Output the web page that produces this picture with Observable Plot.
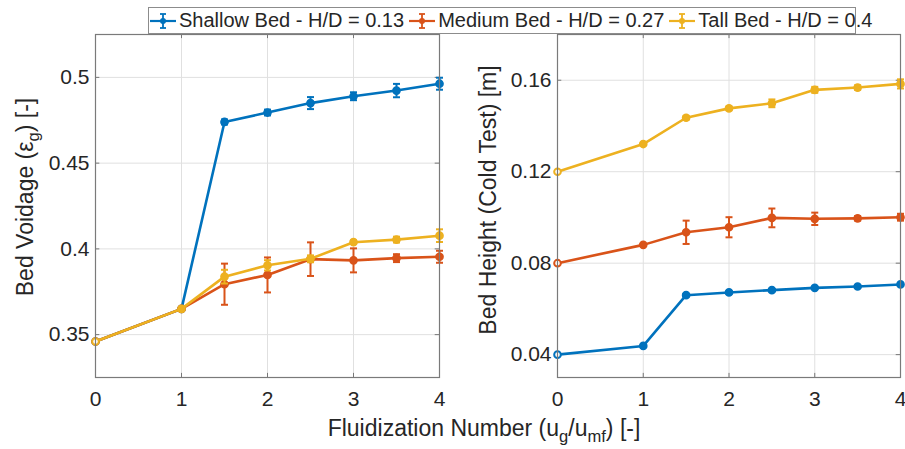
<!DOCTYPE html>
<html>
<head>
<meta charset="utf-8">
<script src="https://cdn.jsdelivr.net/npm/d3@7"></script>
<script src="https://cdn.jsdelivr.net/npm/@observablehq/plot@0.6"></script>
<style>
  html, body { margin: 0; padding: 0; background: #fff; }
  #wrap { position: relative; width: 905px; height: 449px; overflow: hidden; font-family: "Liberation Sans", Arial, sans-serif; color: #262626; }
  .panel { position: absolute; top: 0; }
  .panel svg { overflow: visible; }
  .ylab { position: absolute; font-size: 23px; white-space: nowrap; transform: translate(-50%, -50%) rotate(-90deg); }
  .xlab { position: absolute; font-size: 23px; white-space: nowrap; transform: translate(-50%, -50%); }
  sub { font-size: 0.72em; vertical-align: -0.38em; line-height: 0; }
  #legend { position: absolute; left: 148px; top: 7px; width: 706px; height: 25px; border: 1px solid #8c8c8c; background: #fff; display: flex; align-items: center; font-size: 20px; box-sizing: content-box; z-index: 5; white-space: nowrap; }
  .item { display: flex; align-items: center; margin-right: 4px; flex-shrink: 0; }
  .item svg { margin-right: 2px; }
</style>
</head>
<body>
<div id="wrap">
  <div id="left" class="panel" style="left:0px"></div>
  <div id="right" class="panel" style="left:452px"></div>
  <div id="legend"></div>
  <div class="ylab" style="left:25px; top:197px">Bed Voidage (ε<sub>g</sub>) [-]</div>
  <div class="ylab" style="left:488px; top:200px">Bed Height (Cold Test) [m]</div>
  <div class="xlab" style="left:484px; top:428px">Fluidization Number (u<sub>g</sub>/u<sub>mf</sub>) [-]</div>
</div>
<script>
// ---- data ----
const seriesNames = ["Shallow Bed - H/D = 0.13", "Medium Bed - H/D = 0.27", "Tall Bed - H/D = 0.4"];
const seriesColors = ["#0072BD", "#D95319", "#EDB120"];
const xVals = [0, 1, 1.5, 2, 2.5, 3, 3.5, 4];

const voidShallow    = [0.346, 0.365, 0.474, 0.4795, 0.485, 0.489, 0.4923, 0.4963];
const voidShallowErr = [0, 0, 0.0015, 0.0017, 0.0035, 0.0023, 0.0039, 0.0035];
const voidMedium     = [0.346, 0.365, 0.3794, 0.3848, 0.394, 0.3933, 0.3946, 0.3954];
const voidMediumErr  = [0, 0, 0.012, 0.0102, 0.0098, 0.007, 0.0023, 0.0035];
const voidTall       = [0.346, 0.365, 0.3838, 0.3904, 0.3942, 0.4039, 0.4054, 0.4077];
const voidTallErr    = [0, 0, 0.004, 0.003, 0.002, 0.001, 0.0017, 0.0037];

const heightShallow    = [0.04, 0.0438, 0.066, 0.0672, 0.0682, 0.0692, 0.0698, 0.0707];
const heightShallowErr = [0, 0, 0.0005, 0.0005, 0.0005, 0.0005, 0.0005, 0.0006];
const heightMedium     = [0.08, 0.088, 0.0935, 0.0957, 0.0998, 0.0994, 0.0996, 0.1001];
const heightMediumErr  = [0, 0, 0.0051, 0.0044, 0.0041, 0.0027, 0.001, 0.0015];
const heightTall       = [0.12, 0.1321, 0.1436, 0.1477, 0.1499, 0.1558, 0.1568, 0.1584];
const heightTallErr    = [0, 0, 0.0008, 0.0008, 0.0017, 0.0013, 0.001, 0.002];

const xTicks = [0, 1, 2, 3, 4];
const voidTicks = [0.35, 0.4, 0.45, 0.5];
const heightTicks = [0.04, 0.08, 0.12, 0.16];

// ---- build tables ----
function table(vals, errs) {
  const out = [];
  vals.forEach((v, si) => {
    xVals.forEach((x, i) => out.push({series: seriesNames[si], si, x, y: v[i], e: errs[si][i]}));
  });
  return out;
}
const voidData = table([voidShallow, voidMedium, voidTall], [voidShallowErr, voidMediumErr, voidTallErr]);
const heightData = table([heightShallow, heightMedium, heightTall], [heightShallowErr, heightMediumErr, heightTallErr]);

const hline = { draw(ctx, size) { const w = 3.5; ctx.moveTo(-w, 0); ctx.lineTo(w, 0); } };

function panel(data, yDomain, yTicks, opts) {
  const span = yDomain[1] - yDomain[0];
  const marks = [
    Plot.gridX(xTicks, {stroke: "#e0e0e0", strokeOpacity: 1}),
    Plot.gridY(yTicks, {stroke: "#e0e0e0", strokeOpacity: 1}),
    Plot.axisX(xTicks, {tickSize: 0, tickPadding: 14, fontSize: 21, label: null, tickFormat: d => String(d)}),
    Plot.axisY(yTicks, {tickSize: 0, tickPadding: 6, fontSize: 21, label: null, tickFormat: d => String(+d.toFixed(3))}),
    Plot.ruleX(xTicks, {x: d => d, y1: yDomain[1], y2: yDomain[1] - span * 0.012, stroke: "#777"}),
    Plot.ruleX(xTicks, {x: d => d, y1: yDomain[0], y2: yDomain[0] + span * 0.012, stroke: "#777"}),
    Plot.ruleY(yTicks, {y: d => d, x1: 0, x2: 0.05, stroke: "#777"}),
    Plot.ruleY(yTicks, {y: d => d, x1: 4, x2: 3.95, stroke: "#777"}),
  ];
  for (let si = 0; si < 3; si++) {
    const d = data.filter(r => r.si === si);
    const de = d.filter(r => r.e > 0);
    marks.push(
      Plot.line(d, {x: "x", y: "y", stroke: seriesColors[si], strokeWidth: 2.6}),
      Plot.ruleX(de, {x: "x", y1: r => r.y - r.e, y2: r => r.y + r.e, stroke: seriesColors[si], strokeWidth: 2}),
      Plot.dot(de, {x: "x", y: r => r.y - r.e, symbol: hline, stroke: seriesColors[si], strokeWidth: 2}),
      Plot.dot(de, {x: "x", y: r => r.y + r.e, symbol: hline, stroke: seriesColors[si], strokeWidth: 2}),
      Plot.dot(d.filter(r => r.x > 0), {x: "x", y: "y", r: 3.6, fill: seriesColors[si], stroke: seriesColors[si]}),
      Plot.dot(d.filter(r => r.x === 0), {x: "x", y: "y", r: 3.3, fill: "#fff", stroke: seriesColors[si], strokeWidth: 2})
    );
  }
  marks.push(Plot.frame({stroke: "#7a7a7a", strokeWidth: 1.2}));
  return Plot.plot({
    width: opts.width, height: 449,
    marginLeft: opts.ml, marginRight: opts.mr, marginTop: 34, marginBottom: 72,
    x: {domain: [0, 4], label: null},
    y: {domain: yDomain, label: null},
    style: {fontFamily: "Liberation Sans, Arial, sans-serif", color: "#262626", background: "transparent", overflow: "visible"},
    marks
  });
}

document.getElementById("left").appendChild(panel(voidData, [0.325, 0.525], voidTicks, {width: 452, ml: 95, mr: 13}));
document.getElementById("right").appendChild(panel(heightData, [0.03, 0.18], heightTicks, {width: 453, ml: 105, mr: 5}));

// ---- legend ----
const legend = document.getElementById("legend");
seriesNames.forEach((name, i) => {
  const item = document.createElement("div");
  item.className = "item";
  const c = seriesColors[i];
  item.innerHTML = `<svg width="28" height="24" viewBox="0 0 28 24">
    <line x1="1" y1="12" x2="27" y2="12" stroke="${c}" stroke-width="2.2"/>
    <line x1="14" y1="5" x2="14" y2="19" stroke="${c}" stroke-width="1.8"/>
    <line x1="11" y1="5" x2="17" y2="5" stroke="${c}" stroke-width="1.8"/>
    <line x1="11" y1="19" x2="17" y2="19" stroke="${c}" stroke-width="1.8"/>
    <circle cx="14" cy="12" r="3" fill="${c}"/></svg><span>${name}</span>`;
  legend.appendChild(item);
});
</script>
</body>
</html>
